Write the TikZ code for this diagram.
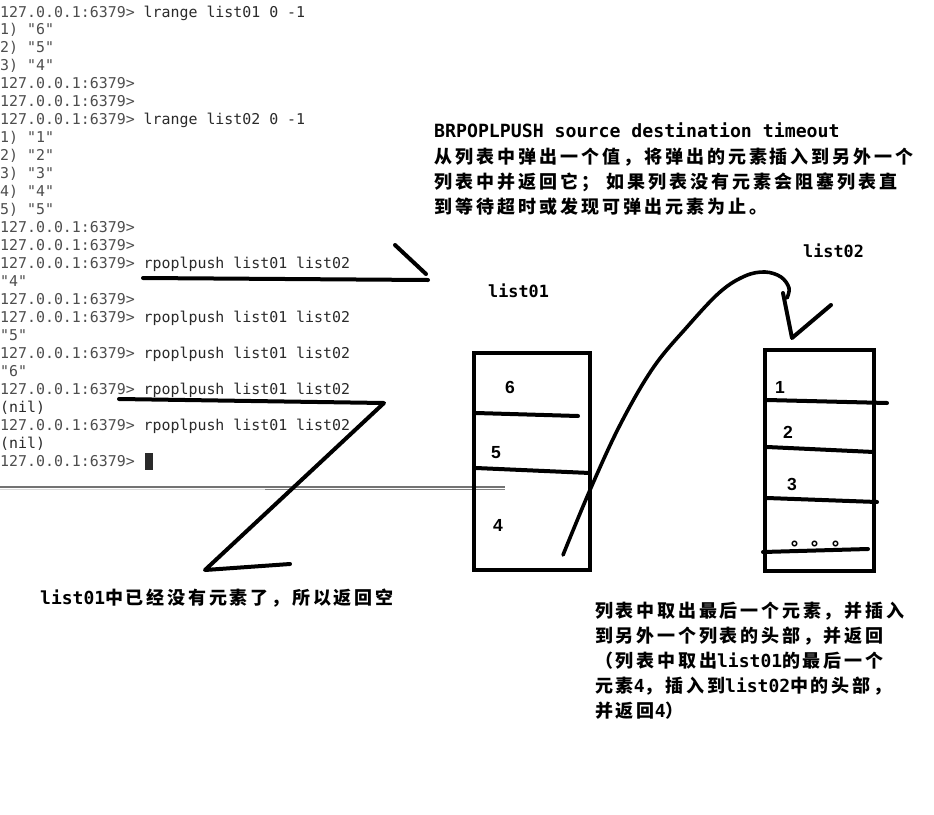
\documentclass[tikz,border=0pt]{standalone}
\usepackage{fontspec}
\newfontfamily\term{DejaVu Sans Mono}
\newfontfamily\dvm{DejaVu Sans Mono}
\newfontfamily\arialf{Liberation Sans}
\newfontfamily\cjkA{Noto Sans CJK SC}[LetterSpace=16.6]
\newfontfamily\cjkB{Noto Sans CJK SC}[LetterSpace=15.5]
\definecolor{tprompt}{HTML}{4E4E4E}
\definecolor{tcmd}{HTML}{2A2A2A}
\newcommand\Prm{127.0.0.1:6379>}
\newcommand\La[1]{{\dvm\bfseries #1}}
\tikzset{
  termline/.style={anchor=base west, inner sep=0pt, font=\term\fontsize{14.9}{18}\selectfont, text=tprompt},
  pen/.style={line width=4pt, line cap=round, line join=round, black},
  boxpen/.style={line width=4.6pt, line join=miter, black},
  cjkA/.style={anchor=base west, inner sep=0pt, font=\cjkA\bfseries\fontsize{18}{25}\selectfont},
  cjkB/.style={anchor=base west, inner sep=0pt, font=\cjkB\bfseries\fontsize{18}{25}\selectfont},
  lbl/.style={anchor=base west, inner sep=0pt, font=\dvm\bfseries\fontsize{16.8}{20}\selectfont},
  cmdhead/.style={anchor=base west, inner sep=0pt, font=\dvm\bfseries\fontsize{18.2}{20}\selectfont},
  num/.style={inner sep=0pt, font=\arialf\bfseries\fontsize{17.5}{20}\selectfont}
}
\begin{document}
\begin{tikzpicture}[x=1pt,y=-1pt]
\fill[white] (0,0) rectangle (934,814);
\useasboundingbox (0,0) rectangle (934,814);

% terminal separator
\draw[line width=1.2pt, color=black!55] (0,487) -- (505,487);
\draw[line width=1pt, color=black!15] (0,489.6) -- (265,489.6);
\draw[line width=1pt, color=black!50] (265,489.6) -- (505,489.6);

% terminal lines
\node[termline] (t01) at (0,17.0)  {\Prm{} \textcolor{tcmd}{lrange list01 0 -1}};
\node[termline] (t02) at (0,34.96) {1) "6"};
\node[termline] (t03) at (0,52.92) {2) "5"};
\node[termline] (t04) at (0,70.88) {3) "4"};
\node[termline] (t05) at (0,88.84) {\Prm};
\node[termline] (t06) at (0,106.8) {\Prm};
\node[termline] (t07) at (0,124.76) {\Prm{} \textcolor{tcmd}{lrange list02 0 -1}};
\node[termline] (t08) at (0,142.72) {1) "1"};
\node[termline] (t09) at (0,160.68) {2) "2"};
\node[termline] (t10) at (0,178.64) {3) "3"};
\node[termline] (t11) at (0,196.6) {4) "4"};
\node[termline] (t12) at (0,214.56) {5) "5"};
\node[termline] (t13) at (0,232.52) {\Prm};
\node[termline] (t14) at (0,250.48) {\Prm};
\node[termline] (t15) at (0,268.44) {\Prm{} \textcolor{tcmd}{rpoplpush list01 list02}};
\node[termline] (t16) at (0,286.4) {"4"};
\node[termline] (t17) at (0,304.36) {\Prm};
\node[termline] (t18) at (0,322.32) {\Prm{} \textcolor{tcmd}{rpoplpush list01 list02}};
\node[termline] (t19) at (0,340.28) {"5"};
\node[termline] (t20) at (0,358.24) {\Prm{} \textcolor{tcmd}{rpoplpush list01 list02}};
\node[termline] (t21) at (0,376.2) {"6"};
\node[termline] (t22) at (0,394.16) {\Prm{} \textcolor{tcmd}{rpoplpush list01 list02}};
\node[termline] (t23) at (0,412.12) {\textcolor{tcmd}{(nil)}};
\node[termline] (t24) at (0,430.08) {\Prm{} \textcolor{tcmd}{rpoplpush list01 list02}};
\node[termline] (t25) at (0,448.04) {\textcolor{tcmd}{(nil)}};
\node[termline] (t26) at (0,466.0) {\Prm};
\fill[tcmd] (145,453) rectangle (153,470);

% description top right
\node[cmdhead] (head) at (434,137) {BRPOPLPUSH source destination timeout};
\node[cjkA] (d1) at (434,163) {从列表中弹出一个值，将弹出的元素插入到另外一个};
\node[cjkA] (d2) at (434,188) {列表中并返回它； 如果列表没有元素会阻塞列表直};
\node[cjkA] (d3) at (434,213) {到等待超时或发现可弹出元素为止。};

% hand-drawn strokes on terminal
\draw[pen] (143,278) -- (428,280);
\draw[pen] (395,245) -- (426,274);
\draw[pen] (119,399) -- (384,403) -- (205,570) -- (290,564);

% list01
\node[lbl] (l1) at (488,297) {list01};
\draw[boxpen] (474,353) rectangle (590,570);
\draw[pen] (476,413) -- (578,416);
\draw[pen] (476,468) -- (590,473);
\node[num] (n6) at (510,387) {6};
\node[num] (n5) at (496,453) {5};
\node[num] (n4) at (498,525) {4};

% list02
\node[lbl] (l2) at (803,257) {list02};
\draw[boxpen] (765,350) rectangle (874,571);
\draw[pen] (767,400) -- (887,403);
\draw[pen] (767,447) -- (874,452);
\draw[pen] (767,498) -- (877,502);
\draw[pen] (763,552) -- (868,549);
\node[num] (n1) at (780,387) {1};
\node[num] (n2) at (788,432) {2};
\node[num] (n3) at (792,484) {3};
\node[cjkB] (dots) at (791,545) {。。。};

% arrow from list01 to list02
\draw[pen, line width=3.6pt] plot[smooth, tension=0.6] coordinates {(563,555) (590,490) (620,425) (653,368) (687,327) (720,292) (745,276) (765,272) (781,277) (789,288) (787,298)};
\draw[pen] (783,293) -- (792,338) -- (831,305);

% bottom notes
\node[cjkB] (c1) at (40,604) {\La{list01}中已经没有元素了，所以返回空};
\node[cjkB] (e1) at (595,617) {列表中取出最后一个元素，并插入};
\node[cjkB] (e2) at (595,642) {到另外一个列表的头部，并返回};
\node[cjkB] (e3) at (595,667) {（列表中取出\La{list01}的最后一个};
\node[cjkB] (e4) at (595,692) {元素\La{4}，插入到\La{list02}中的头部，};
\node[cjkB] (e5) at (595,717) {并返回\La{4}）};
\end{tikzpicture}
\end{document}
